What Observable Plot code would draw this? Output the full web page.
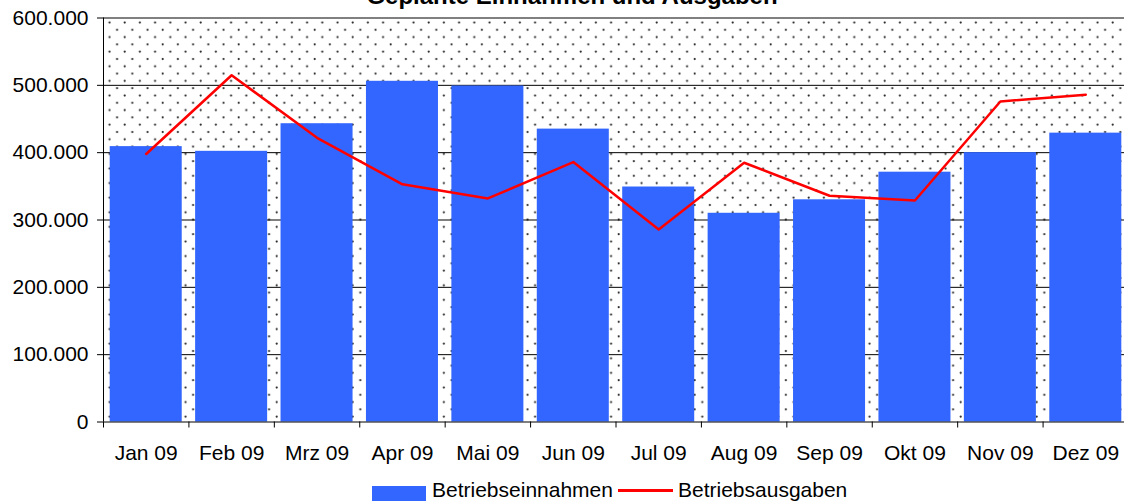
<!DOCTYPE html>
<html>
<head>
<meta charset="utf-8">
<script src="https://cdn.jsdelivr.net/npm/d3@7"></script>
<script src="https://cdn.jsdelivr.net/npm/@observablehq/plot@0.6"></script>
<style>
  html, body { margin: 0; padding: 0; background: #fff; }
  body { width: 1124px; height: 501px; position: relative; overflow: hidden;
         font-family: "Liberation Sans", Arial, sans-serif; color: #000; }
  #chart { position: absolute; left: 0; top: 0; }
  #title { position: absolute; left: 572px; top: -16px; transform: translateX(-50%);
           font-weight: bold; font-size: 24px; line-height: 24px; white-space: nowrap; }
  .lt { position: absolute; top: 479px; font-size: 21px; line-height: 21px; white-space: nowrap; }
  .sw { position: absolute; }
</style>
</head>
<body>
<div id="chart"></div>
<div id="title">Geplante Einnahmen und Ausgaben</div>
<div id="legend">
  <div class="sw" style="left:372px;top:486px;width:54px;height:16px;background:#3366ff"></div>
  <div class="lt" style="left:432px">Betriebseinnahmen</div>
  <div class="sw" style="left:618px;top:489px;width:55px;height:2.5px;background:#ff0000"></div>
  <div class="lt" style="left:678px">Betriebsausgaben</div>
</div>
<script>
const months = ["Jan 09", "Feb 09", "Mrz 09", "Apr 09", "Mai 09", "Jun 09",
                "Jul 09", "Aug 09", "Sep 09", "Okt 09", "Nov 09", "Dez 09"];
const betriebseinnahmen = [409000, 402000, 443000, 506000, 499000, 435000,
                           349000, 310000, 330000, 371000, 400000, 429000];
const betriebsausgaben = [398000, 515000, 422000, 353000, 332000, 386000,
                          286000, 385000, 336000, 329000, 476000, 486000];
const yTicks = [0, 100000, 200000, 300000, 400000, 500000, 600000];

const data = months.map((m, i) => ({month: m, ein: betriebseinnahmen[i], aus: betriebsausgaben[i]}));

const W = 1124, H = 470;
const mL = 103, mR = -4, mT = 17.5, mB = 48.5;
const bw = (W - mL - mR) / months.length;
const fmt = d3.formatLocale({decimal: ",", thousands: ".", grouping: [3], currency: ["", "€"]}).format(",");

const plot = Plot.plot({
  width: W, height: H,
  marginLeft: mL, marginRight: mR, marginTop: mT, marginBottom: mB,
  style: {fontFamily: "Liberation Sans, Arial, sans-serif", fontSize: "21px", color: "#000", background: "transparent", overflow: "visible"},
  x: {type: "band", domain: months, padding: 0, round: false, label: null},
  y: {domain: [0, 600000], label: null},
  marks: [
    Plot.frame({fill: "url(#dots)", stroke: "none"}),
    Plot.gridY(yTicks.slice(1, -1), {stroke: "#000", strokeOpacity: 1}),
    Plot.barY(data, {x: "month", y: "ein", fill: "#3366ff", insetLeft: 6.7, insetRight: 6.7}),
    Plot.ruleY([600000], {stroke: "#808080", strokeWidth: 2}),
    Plot.ruleY([0], {stroke: "#000"}),
    Plot.ruleX([months[0]], {x: d => d, dx: -bw / 2, y1: 0, y2: 600000, stroke: "#000"}),
    Plot.axisY(yTicks, {tickFormat: fmt, tickSize: 6, tickPadding: 9, fontSize: 21, stroke: "#000", fill: "#000"}),
    Plot.axisX({tickSize: 6, tickFormat: () => "", dx: -bw / 2, stroke: "#000"}),
    Plot.axisX({tickSize: 0, tickPadding: 23, fontSize: 21, fill: "#000"}),
    Plot.line(data, {x: "month", y: "aus", stroke: "#ff0000", strokeWidth: 2.5})
  ]
});

const ns = "http://www.w3.org/2000/svg";
const defs = document.createElementNS(ns, "defs");
defs.innerHTML = '<pattern id="dots" width="15.2" height="14.6" patternUnits="userSpaceOnUse">' +
  '<circle cx="2.6" cy="7.4" r="1.1" fill="#222"/>' +
  '<circle cx="10.2" cy="0.1" r="1.1" fill="#222"/>' +
  '<circle cx="10.2" cy="14.7" r="1.1" fill="#222"/></pattern>';
plot.insertBefore(defs, plot.firstChild);
plot.style.maxWidth = "none";
document.getElementById("chart").appendChild(plot);
</script>
</body>
</html>
